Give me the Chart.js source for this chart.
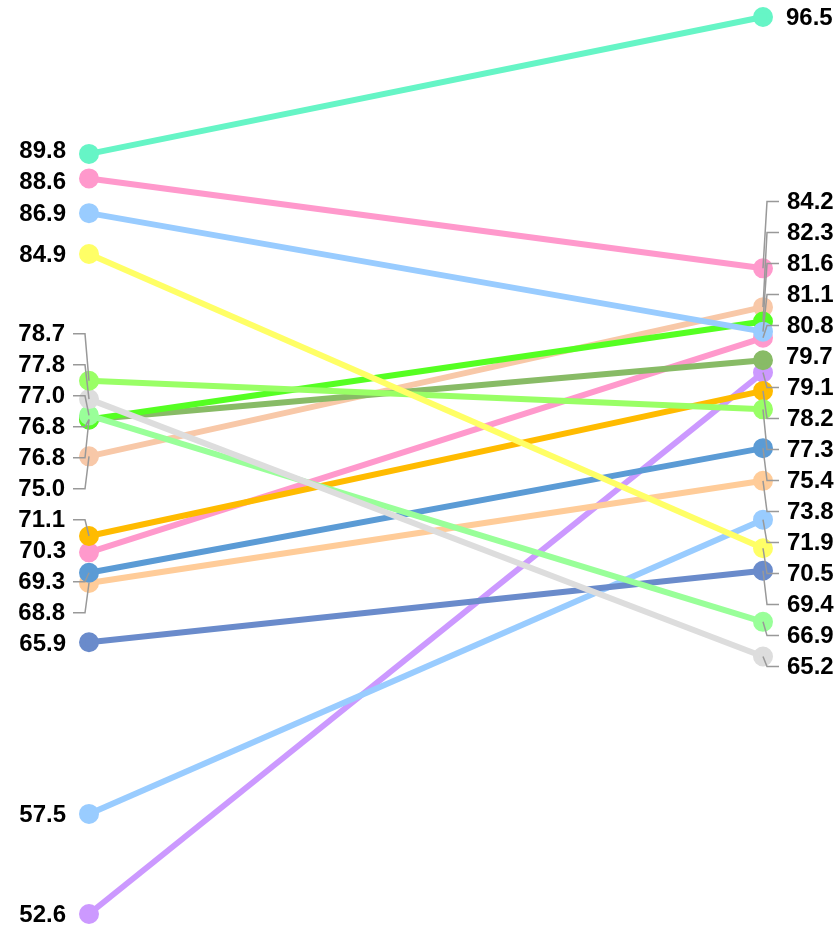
<!DOCTYPE html>
<html>
<head>
<meta charset="utf-8">
<title>Slope chart</title>
<script src="https://cdn.jsdelivr.net/npm/chart.js@4.4.1/dist/chart.umd.min.js"></script>
<style>
  html, body { margin: 0; padding: 0; background: #fff; }
  .wrap { width: 839px; height: 928px; position: relative; }
</style>
</head>
<body>
<div class="wrap"><canvas id="slopeChart"></canvas></div>
<script>
// valores de cada serie: inicio (izquierda) y final (derecha)
const periods = ['Start', 'End'];
const startValues = [89.8, 88.6, 86.9, 84.9, 78.7, 77.8, 77.0, 76.8, 76.8, 75.0, 71.1, 70.3, 69.3, 68.8, 65.9, 57.5, 52.6];
const endValues = [96.5, 84.2, 81.1, 70.5, 77.3, 65.2, 66.9, 81.6, 79.7, 82.3, 78.2, 80.8, 75.4, 73.8, 69.4, 71.9, 79.1];

const palette = [
    '#66f5c6', '#ff99cc', '#99ccff', '#ffff66', '#99ff66', '#dddddd',
    '#99ff99', '#55ff22', '#88bb66', '#f8c8a8', '#ffbb00', '#ff99cc',
    '#5b9bd5', '#ffcc99', '#6a8bcb', '#99ccff', '#cc99ff'
];

const datasets = startValues.map(function (v, i) {
    return {
        data: [v, endValues[i]],
        borderColor: palette[i],
        backgroundColor: palette[i],
        pointBackgroundColor: palette[i],
        pointBorderColor: palette[i],
        borderWidth: 6,
        pointRadius: 7,
        pointHoverRadius: 7,
        tension: 0,
        clip: false
    };
});

// reparte las etiquetas para que no se encimen
function spreadLabels(items, gap) {
    const sorted = items.slice().sort(function (a, b) { return a.py - b.py; });
    const groups = [];
    sorted.forEach(function (it) {
        groups.push({ items: [it], sum: it.py });
        while (groups.length > 1) {
            const cur = groups[groups.length - 1];
            const prev = groups[groups.length - 2];
            const prevTop = prev.sum / prev.items.length - (prev.items.length - 1) * gap / 2;
            const curTop = cur.sum / cur.items.length - (cur.items.length - 1) * gap / 2;
            if (prevTop + prev.items.length * gap > curTop) {
                prev.items = prev.items.concat(cur.items);
                prev.sum += cur.sum;
                groups.pop();
            } else {
                break;
            }
        }
    });
    groups.forEach(function (g) {
        const top = g.sum / g.items.length - (g.items.length - 1) * gap / 2;
        g.items.forEach(function (it, k) { it.ly = top + k * gap; });
    });
    return sorted;
}

const labelPlugin = {
    id: 'slopeLabels',
    afterDatasetsDraw: function (chart) {
        const ctx = chart.ctx;
        [0, 1].forEach(function (side) {
            const items = [];
            chart.data.datasets.forEach(function (ds, i) {
                const pt = chart.getDatasetMeta(i).data[side];
                items.push({ px: pt.x, py: pt.y, value: ds.data[side] });
            });
            const placed = spreadLabels(items, side === 0 ? 31 : 31);
            const dir = side === 0 ? -1 : 1;
            ctx.save();
            ctx.font = 'bold 24px "Liberation Sans", Arial, sans-serif';
            ctx.fillStyle = '#000';
            ctx.textBaseline = 'middle';
            ctx.textAlign = side === 0 ? 'right' : 'left';
            placed.forEach(function (it) {
                const moved = Math.abs(it.ly - it.py) > 5;
                if (moved) {
                    ctx.strokeStyle = '#999';
                    ctx.lineWidth = 1.5;
                    ctx.beginPath();
                    ctx.moveTo(it.px + dir * 16, it.ly);
                    ctx.lineTo(it.px + dir * 4, it.ly);
                    ctx.lineTo(it.px, it.py);
                    ctx.stroke();
                }
                const off = moved ? 24 : 23;
                ctx.fillText(it.value.toFixed(1), it.px + dir * off, it.ly + 1);
            });
            ctx.restore();
        });
    }
};

const ctx = document.getElementById('slopeChart').getContext('2d');
const slopeChart = new Chart(ctx, {
    type: 'line',
    data: { labels: periods, datasets: datasets },
    options: {
        responsive: true,
        maintainAspectRatio: false,
        animation: false,
        layout: { padding: { left: 89, right: 76, top: 17, bottom: 14 } },
        plugins: { legend: { display: false }, tooltip: { enabled: false } },
        scales: {
            x: { display: false, offset: false },
            y: { display: false, min: 52.6, max: 96.5 }
        }
    },
    plugins: [labelPlugin]
});
</script>
</body>
</html>
